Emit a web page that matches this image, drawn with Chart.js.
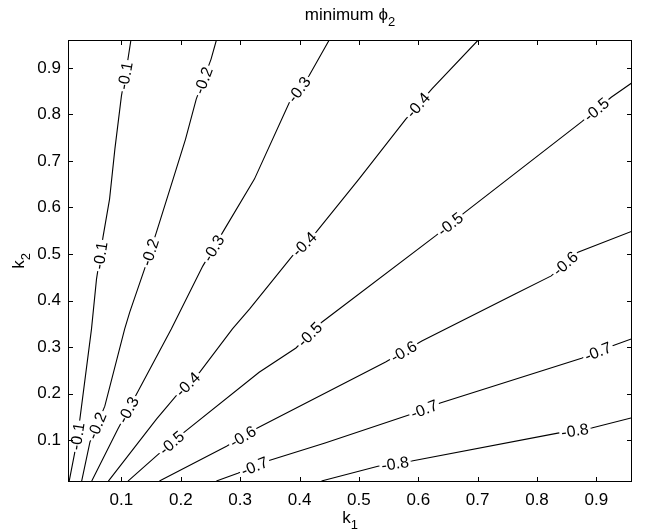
<html>
<head>
	<script src="https://cdn.jsdelivr.net/npm/chart.js@4/dist/chart.umd.min.js"></script>
</head>
<body style="margin:0;background:#fff">
	<canvas id="myChart" width="656" height="532"></canvas>
</body>
<script>

// contour levels of minimum phi_2 over (k1, k2)
const levels = ['-0.1', '-0.2', '-0.3', '-0.4', '-0.5', '-0.6', '-0.7', '-0.8'];

const c1_k1 = [0.012, 0.0215, 0.030, 0.0496, 0.058, 0.069, 0.080, 0.089, 0.100, 0.111, 0.116];
const c1_k2 = [0.012, 0.074, 0.145, 0.339, 0.446, 0.537, 0.618, 0.726, 0.840, 0.919, 0.96];
const c2_k1 = [0.033, 0.047, 0.072, 0.1055, 0.114, 0.139, 0.159, 0.187, 0.208, 0.226, 0.251, 0.260];
const c2_k2 = [0.012, 0.096, 0.173, 0.339, 0.375, 0.468, 0.547, 0.661, 0.747, 0.833, 0.919, 0.96];
const c3_k1 = [0.050, 0.094, 0.128, 0.184, 0.237, 0.274, 0.324, 0.383, 0.416, 0.45];
const c3_k2 = [0.012, 0.124, 0.205, 0.339, 0.474, 0.554, 0.661, 0.826, 0.883, 0.96];
const c4_k1 = [0.078, 0.159, 0.192, 0.232, 0.287, 0.316, 0.388, 0.428, 0.50, 0.579, 0.623, 0.701];
const c4_k2 = [0.012, 0.145, 0.195, 0.246, 0.339, 0.382, 0.496, 0.547, 0.661, 0.790, 0.855, 0.96];
const c5_k1 = [0.111, 0.159, 0.198, 0.332, 0.394, 0.438, 0.629, 0.679, 0.875, 0.925, 0.96];
const c5_k2 = [0.012, 0.066, 0.109, 0.246, 0.298, 0.354, 0.539, 0.590, 0.784, 0.837, 0.868];
const c6_k1 = [0.164, 0.277, 0.329, 0.545, 0.606, 0.763, 0.824, 0.869, 0.96];
const c6_k2 = [0.012, 0.087, 0.126, 0.268, 0.313, 0.414, 0.453, 0.504, 0.549];
const c7_k1 = [0.260, 0.296, 0.346, 0.443, 0.589, 0.637, 0.875, 0.925, 0.96];
const c7_k2 = [0.012, 0.029, 0.055, 0.094, 0.156, 0.180, 0.276, 0.302, 0.318];
const c8_k1 = [0.437, 0.532, 0.589, 0.835, 0.892, 0.96];
const c8_k2 = [0.012, 0.044, 0.055, 0.115, 0.126, 0.148];

// where the inline labels sit
const l1_k1 = [0.0244, 0.0664, 0.1055], l1_k2 = [0.1086, 0.4963, 0.8834];
const l2_k1 = [0.0602, 0.1476, 0.240], l2_k2 = [0.130, 0.504, 0.872];
const l3_k1 = [0.114, 0.2568, 0.4047], l3_k2 = [0.163, 0.5108, 0.848];
const l4_k1 = [0.2114, 0.408, 0.6013], l4_k2 = [0.2204, 0.5215, 0.818];
const l5_k1 = [0.1782, 0.4215, 0.655, 0.9005], l5_k2 = [0.1032, 0.3215, 0.5624, 0.8097];
const l6_k1 = [0.3039, 0.576, 0.8467], l6_k2 = [0.1086, 0.289, 0.4806];
const l7_k1 = [0.324, 0.6098, 0.9022], l7_k2 = [0.0441, 0.1667, 0.2914];
const l8_k1 = [0.5610, 0.8635], l8_k2 = [0.0484, 0.1237];

const xTicks = [0.1, 0.2, 0.3, 0.4, 0.5, 0.6, 0.7, 0.8, 0.9];
const yTicks = [0.1, 0.2, 0.3, 0.4, 0.5, 0.6, 0.7, 0.8, 0.9];

const curves = [[c1_k1, c1_k2], [c2_k1, c2_k2], [c3_k1, c3_k2], [c4_k1, c4_k2],
                [c5_k1, c5_k2], [c6_k1, c6_k2], [c7_k1, c7_k2], [c8_k1, c8_k2]];
const labelSpots = [[l1_k1, l1_k2], [l2_k1, l2_k2], [l3_k1, l3_k2], [l4_k1, l4_k2],
                    [l5_k1, l5_k2], [l6_k1, l6_k2], [l7_k1, l7_k2], [l8_k1, l8_k2]];

const FONT = '"Liberation Sans", Arial, Helvetica, sans-serif';

const datasets = curves.map((c, i) => ({
  label: levels[i],
  data: c[0].map((x, j) => ({x: x, y: c[1][j]})),
  showLine: true,
  borderColor: '#000',
  borderWidth: 1.1,
  pointRadius: 0,
  tension: 0
}));

const contourLabels = {
  id: 'contourLabels',
  afterDatasetsDraw(chart) {
    const ctx = chart.ctx, xs = chart.scales.x, ys = chart.scales.y;
    ctx.save();
    ctx.font = '16px ' + FONT;
    ctx.textAlign = 'center';
    ctx.textBaseline = 'middle';
    labelSpots.forEach((spots, i) => {
      const pts = curves[i][0].map((x, j) => [xs.getPixelForValue(x), ys.getPixelForValue(curves[i][1][j])]);
      spots[0].forEach((lx, k) => {
        const px = xs.getPixelForValue(lx), py = ys.getPixelForValue(spots[1][k]);
        // snap onto the nearest segment of the curve
        let best = null;
        for (let s = 0; s < pts.length - 1; s++) {
          const [ax, ay] = pts[s], [bx, by] = pts[s + 1];
          const dx = bx - ax, dy = by - ay;
          let t = ((px - ax) * dx + (py - ay) * dy) / (dx * dx + dy * dy);
          t = Math.max(0, Math.min(1, t));
          const qx = ax + t * dx, qy = ay + t * dy;
          const d = (qx - px) ** 2 + (qy - py) ** 2;
          if (!best || d < best.d) best = {d: d, x: qx, y: qy, a: Math.atan2(dy, dx)};
        }
        let a = best.a;
        if (a > Math.PI / 2) a -= Math.PI;
        if (a < -Math.PI / 2) a += Math.PI;
        const txt = levels[i];
        const w = ctx.measureText(txt).width;
        ctx.save();
        ctx.translate(best.x, best.y);
        ctx.rotate(a);
        ctx.fillStyle = '#fff';
        ctx.fillRect(-w / 2 - 2, -7.5, w + 4, 15);
        ctx.fillStyle = '#000';
        ctx.fillText(txt, 0, 1);
        ctx.restore();
      });
    });
    ctx.restore();
  },
  afterDraw(chart) {
    const ctx = chart.ctx, a = chart.chartArea, xs = chart.scales.x, ys = chart.scales.y;
    ctx.save();
    ctx.strokeStyle = '#000';
    ctx.lineWidth = 1;
    ctx.strokeRect(a.left + 0.5, a.top + 0.5, a.right - a.left - 1, a.bottom - a.top - 1);
    // inward ticks on all four sides
    const tl = 5;
    ctx.beginPath();
    xTicks.forEach(v => {
      const x = Math.round(xs.getPixelForValue(v)) + 0.5;
      ctx.moveTo(x, a.bottom); ctx.lineTo(x, a.bottom - tl);
      ctx.moveTo(x, a.top); ctx.lineTo(x, a.top + tl);
    });
    yTicks.forEach(v => {
      const y = Math.round(ys.getPixelForValue(v)) + 0.5;
      ctx.moveTo(a.left, y); ctx.lineTo(a.left + tl, y);
      ctx.moveTo(a.right, y); ctx.lineTo(a.right - tl, y);
    });
    ctx.stroke();

    ctx.fillStyle = '#000';
    ctx.textBaseline = 'alphabetic';
    const cx = (a.left + a.right) / 2;
    // title: minimum phi_2
    ctx.font = '17px ' + FONT;
    const t1 = 'minimum ϕ';
    const w1 = ctx.measureText(t1).width;
    ctx.font = '13px ' + FONT;
    const w2 = ctx.measureText('2').width;
    let x0 = cx - (w1 + w2) / 2;
    ctx.font = '17px ' + FONT;
    ctx.textAlign = 'left';
    ctx.fillText(t1, x0, 20);
    ctx.font = '13px ' + FONT;
    ctx.fillText('2', x0 + w1, 26);

    // x title k_1
    ctx.font = '17px ' + FONT;
    const wk = ctx.measureText('k').width;
    x0 = cx - (wk + 7) / 2;
    ctx.fillText('k', x0, 523);
    ctx.font = '13px ' + FONT;
    ctx.fillText('1', x0 + wk, 529);

    // y title k_2
    ctx.translate(24, (a.top + a.bottom) / 2);
    ctx.rotate(-Math.PI / 2);
    ctx.font = '17px ' + FONT;
    ctx.fillText('k', -(wk + 7) / 2, 0);
    ctx.font = '13px ' + FONT;
    ctx.fillText('2', -(wk + 7) / 2 + wk, 6);
    ctx.restore();
  }
};

const config = {
  type: 'scatter',
  data: {datasets: datasets},
  options: {
    responsive: false,
    animation: false,
    layout: {padding: {top: 40, right: 24, left: 0, bottom: 0}},
    plugins: {legend: {display: false}, tooltip: {enabled: false}, title: {display: false}},
    scales: {
      x: {
        type: 'linear', min: 0.01, max: 0.96,
        grid: {display: false, drawTicks: false},
        border: {display: false},
        afterBuildTicks: s => { s.ticks = xTicks.map(v => ({value: v})); },
        afterFit: s => { s.height = 50; },
        ticks: {color: '#000', padding: 8, maxRotation: 0, font: {family: FONT, size: 17},
                callback: v => v.toFixed(1)}
      },
      y: {
        type: 'linear', min: 0.01, max: 0.96,
        grid: {display: false, drawTicks: false},
        border: {display: false},
        afterBuildTicks: s => { s.ticks = yTicks.map(v => ({value: v})); },
        afterFit: s => { s.width = 68; },
        ticks: {color: '#000', padding: 7, font: {family: FONT, size: 17},
                callback: v => v.toFixed(1)}
      }
    }
  },
  plugins: [contourLabels]
};

var ctx = document.getElementById('myChart');
var myChart = new Chart(ctx, config);

</script>
</html>
